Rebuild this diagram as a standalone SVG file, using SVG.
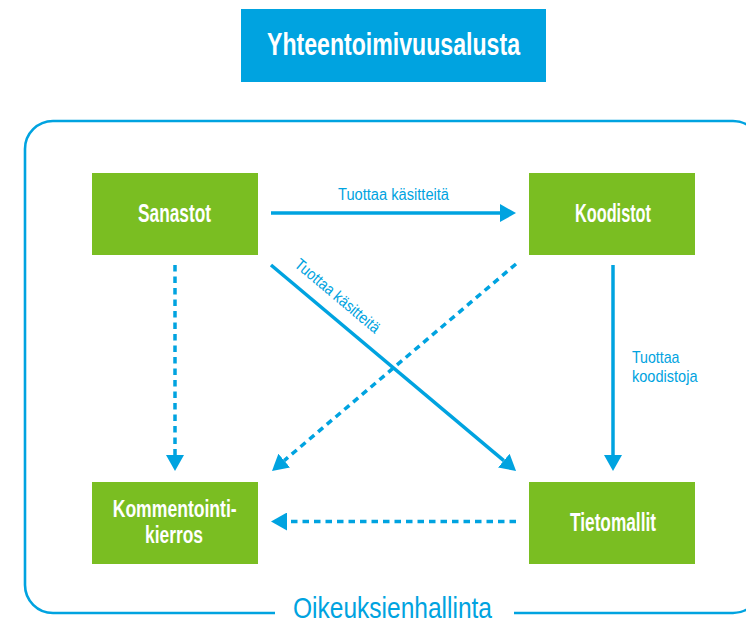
<svg xmlns="http://www.w3.org/2000/svg" width="746" height="624" viewBox="0 0 746 624">
  <style>
    .node rect { fill: #7ABE22; }
    .ntext { font-family: "Liberation Sans", Arial, sans-serif; font-weight: bold; fill: #ffffff; text-anchor: middle; }
    .lbl { font-family: "Liberation Sans", Arial, sans-serif; fill: #00A3E0; }
    .solid { stroke: #00A3E0; stroke-width: 3.5; fill: none; }
    .dash { stroke: #00A3E0; stroke-width: 3.5; fill: none; stroke-dasharray: 6.5 5; }
    .frame { stroke: #00A3E0; stroke-width: 2.6; fill: none; }
  </style>
  <defs>
    <marker id="arr" viewBox="0 0 16 18" refX="0" refY="9" markerWidth="16" markerHeight="18" markerUnits="userSpaceOnUse" orient="auto">
      <path d="M0,0 L16,9 L0,18 Z" fill="#00A3E0"/>
    </marker>
  </defs>
  <rect width="746" height="624" fill="#ffffff"/>

  <g id="title">
    <rect x="241" y="9" width="305" height="73" fill="#00A3E0"/>
    <text class="ntext" x="393.5" y="55" font-size="32" textLength="253" lengthAdjust="spacingAndGlyphs">Yhteentoimivuusalusta</text>
  </g>

  <g id="frame">
    <path class="frame" d="M275,613 H53 A28,28 0 0 1 25,585 V149 A28,28 0 0 1 53,121 H733 A28,28 0 0 1 761,149 V585 A28,28 0 0 1 733,613 H514"/>
    <text class="lbl" x="293" y="617.5" font-size="30" textLength="199" lengthAdjust="spacingAndGlyphs">Oikeuksienhallinta</text>
  </g>

  <g id="connectors">
    <line class="solid" x1="271" y1="213" x2="500" y2="213" marker-end="url(#arr)"/>
    <line class="dash" x1="175" y1="265" x2="175" y2="455" marker-end="url(#arr)"/>
    <line class="solid" x1="271" y1="265" x2="503.8" y2="460.7" marker-end="url(#arr)"/>
    <line class="dash" x1="516" y1="264" x2="284.2" y2="460.6" marker-end="url(#arr)"/>
    <line class="solid" x1="613" y1="265" x2="613" y2="455" marker-end="url(#arr)"/>
    <line class="dash" x1="516" y1="521.5" x2="287" y2="521.5" marker-end="url(#arr)"/>
    <text class="lbl" x="338" y="200" font-size="16" textLength="111" lengthAdjust="spacingAndGlyphs">Tuottaa käsitteitä</text>
    <text class="lbl" text-anchor="middle" font-size="16" textLength="106" lengthAdjust="spacingAndGlyphs" transform="translate(334,300) rotate(40)">Tuottaa käsitteitä</text>
    <text class="lbl" x="632" y="363" font-size="17" textLength="47.5" lengthAdjust="spacingAndGlyphs">Tuottaa</text>
    <text class="lbl" x="632" y="381.5" font-size="17" textLength="65.5" lengthAdjust="spacingAndGlyphs">koodistoja</text>
  </g>

  <g id="sanastot" class="node">
    <rect x="92" y="173" width="166" height="82"/>
    <text class="ntext" x="174.5" y="222" font-size="26" textLength="73" lengthAdjust="spacingAndGlyphs">Sanastot</text>
  </g>
  <g id="koodistot" class="node">
    <rect x="529" y="173" width="166" height="82"/>
    <text class="ntext" x="613" y="222" font-size="26" textLength="76" lengthAdjust="spacingAndGlyphs">Koodistot</text>
  </g>
  <g id="kommentointikierros" class="node">
    <rect x="92" y="482" width="166" height="82"/>
    <text class="ntext" x="174.7" y="517" font-size="23" textLength="124" lengthAdjust="spacingAndGlyphs">Kommentointi-</text>
    <text class="ntext" x="174" y="543" font-size="23" textLength="58" lengthAdjust="spacingAndGlyphs">kierros</text>
  </g>
  <g id="tietomallit" class="node">
    <rect x="529" y="482" width="166" height="82"/>
    <text class="ntext" x="613" y="531" font-size="26" textLength="86" lengthAdjust="spacingAndGlyphs">Tietomallit</text>
  </g>
</svg>
